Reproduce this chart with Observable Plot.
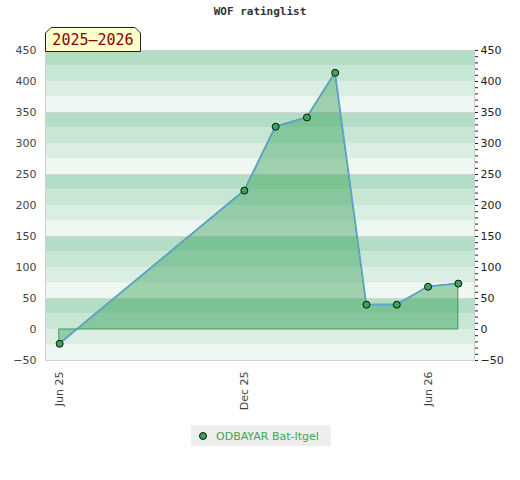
<!DOCTYPE html>
<html>
<head>
<meta charset="utf-8">
<script src="https://cdn.jsdelivr.net/npm/d3@7"></script>
<script src="https://cdn.jsdelivr.net/npm/@observablehq/plot@0.6"></script>
<style>
  html, body { margin: 0; padding: 0; background: #fff; }
  #wrap { position: relative; width: 520px; height: 480px; overflow: hidden; }
  #title { position: absolute; left: 0; top: 5px; width: 520px; text-align: center;
    font: bold 11px "DejaVu Sans Mono", monospace; color: #333; }
  #chart { position: absolute; left: 0; top: 25px; }
  #badge { position: absolute; left: 45px; top: 27px; }
  #legend { position: absolute; left: 191px; top: 425px; width: 140px; height: 21px;
    background: #eeeeee; font: 11px "DejaVu Sans", sans-serif; color: #3aa655; }
  #legend .dot { position: absolute; left: 199px; }
</style>
</head>
<body>
<div id="wrap">
  <div id="title">WOF ratinglist</div>
  <div id="chart"></div>
  <svg id="badge" width="97" height="25">
    <polygon points="0.5,24.5 0.5,6 6,0.5 90,0.5 95.5,6 95.5,24.5" fill="#ffffcc" stroke="#222" stroke-width="1"/>
    <text x="48" y="18" text-anchor="middle" font-family="DejaVu Sans Mono, monospace" font-size="15" fill="#8b0000">2025–2026</text>
  </svg>
  <div id="legend">
    <svg width="140" height="21" style="position:absolute;left:0;top:0">
      <circle cx="12" cy="11" r="3.5" fill="#3aa655" stroke="#111" stroke-width="1"/>
      <text x="25" y="15" font-family="DejaVu Sans, sans-serif" font-size="11" fill="#3aa655">ODBAYAR Bat-Itgel</text>
    </svg>
  </div>
</div>
<script>
// ---- data ----
const player = "ODBAYAR Bat-Itgel";
const dates = ["2025-06-01","2025-12-01","2026-01-01","2026-02-01","2026-03-01","2026-04-01","2026-05-01","2026-06-01","2026-07-01"];
const ratings = [-23, 224, 327, 342, 414, 40, 40, 69, 74];
const xTicks = ["2025-06-01","2025-12-01","2026-06-01"];
const xTickLabels = ["Jun 25","Dec 25","Jun 26"];
const yTicks = [-50, 0, 50, 100, 150, 200, 250, 300, 350, 400, 450];
const yDomain = [-50, 450];
const xDomain = ["2025-05-18","2026-07-17"];

const data = dates.map((d, i) => ({date: new Date(d + "T00:00:00Z"), rating: ratings[i]}));
const xTickDates = xTicks.map(d => new Date(d + "T00:00:00Z"));
const labelMap = new Map(xTickDates.map((d, i) => [+d, xTickLabels[i]]));

const bandColors = ["#eff7f2", "#dbeee3", "#c7e6d4", "#b3dec5"];
const bands = d3.range(yDomain[0], yDomain[1], 25).map((v, i) => ({y1: v, y2: v + 25, c: bandColors[i % 4]}));
const gridLines = d3.range(50, 400, 100);

const chart = Plot.plot({
  width: 520,
  height: 390,
  marginTop: 25,
  marginBottom: 55,
  marginLeft: 45,
  marginRight: 46,
  style: {fontFamily: "DejaVu Sans, sans-serif", fontSize: "11px", color: "#444", background: "transparent"},
  x: {type: "utc", domain: xDomain.map(d => new Date(d + "T00:00:00Z"))},
  y: {domain: yDomain},
  marks: [
    Plot.rect(bands, {x1: () => new Date(xDomain[0] + "T00:00:00Z"), x2: () => new Date(xDomain[1] + "T00:00:00Z"), y1: "y1", y2: "y2", fill: "c"}),
    Plot.ruleY(gridLines, {stroke: "#d4d4d4", strokeWidth: 1}),
    Plot.areaY(data, {x: "date", y: "rating", fill: "#2f9e50", fillOpacity: 0.42, stroke: "#3a9a55", strokeWidth: 1}),
    Plot.lineY(data, {x: "date", y: "rating", stroke: "#5ea3d9", strokeWidth: 1.5}),
    Plot.dot(data, {x: "date", y: "rating", r: 3.5, fill: "#3aa655", stroke: "#111", strokeWidth: 1}),
    Plot.frame({stroke: "#d0d0d0"}),
    Plot.axisY({anchor: "left", ticks: yTicks, tickSize: 0, tickPadding: 9, label: null, fill: "#444"}),
    Plot.axisY({anchor: "right", ticks: d3.range(-50, 451, 10), tickSize: 3, tickPadding: 0, text: null, label: null, stroke: "#222"}),
    Plot.axisY({anchor: "right", ticks: yTicks, tickSize: 0, tickPadding: 6, label: null, fill: "#222"}),
    Plot.axisX({ticks: xTickDates, tickFormat: d => labelMap.get(+d), tickRotate: -90, tickSize: 0, tickPadding: 11, label: null, fill: "#444"})
  ]
});
document.getElementById("chart").appendChild(chart);
</script>
</body>
</html>
